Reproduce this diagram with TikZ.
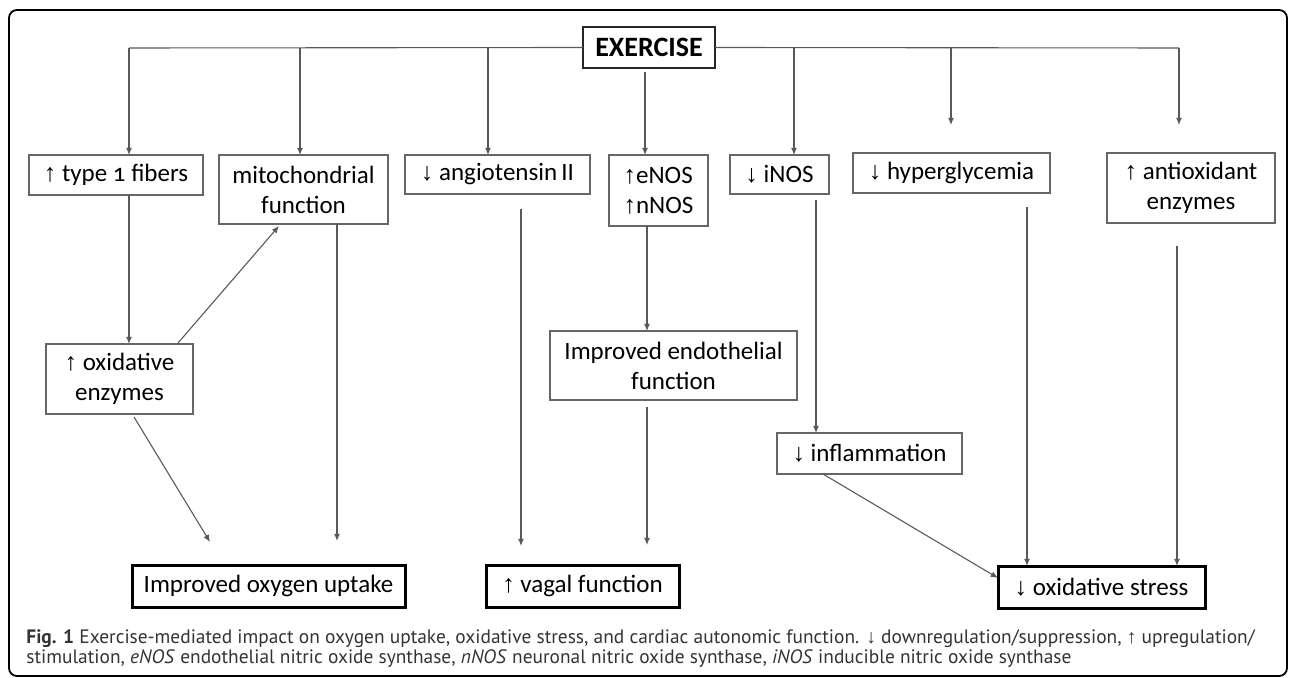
\documentclass[tikz,border=0pt]{standalone}
\usepackage{fontspec}
\setmainfont{Carlito}
\newfontfamily\boxfont[Numbers=OldStyle]{Carlito}
\newfontfamily\arrfont{Liberation Sans}
\newfontfamily\capfont{PT Sans}
\newcommand{\uarr}{{\arrfont ↑}}
\newcommand{\darr}{{\arrfont ↓}}
\usetikzlibrary{arrows.meta}
\tikzset{
  bx/.style 2 args={draw=black!60, line width=0.6pt, inner sep=0pt, outer sep=0pt,
    align=center, font=\boxfont\fontsize{12.5}{15}\selectfont,
    minimum width=#1*0.5pt, minimum height=#2*0.5pt},
  thick bx/.style 2 args={bx={#1}{#2}, draw=black, line width=1.5pt},
  arr/.style={draw=black!65, line width=0.55pt, -{Latex[length=3.6pt,width=3pt]}},
  ln/.style={draw=black!65, line width=0.55pt},
  captext/.style={anchor=base west, inner sep=0pt, text=black!80,
    font=\capfont\fontsize{9.7}{11}\selectfont}
}
\begin{document}
\begin{tikzpicture}[x=0.5pt, y=-0.5pt]
\useasboundingbox (0,0) rectangle (1290,678);
\draw[line width=0.9pt, rounded corners=4pt] (9,10) rectangle (1287,676);

% nodes
\node[bx={132}{41}, draw=black!85, line width=1pt, font=\boxfont\bfseries\fontsize{14}{16}\selectfont] (ex) at (649,47.5) {EXERCISE};
\node[bx={174}{40}] (t1)   at (116,175)    {\uarr\ type 1 fibers};
\node[bx={169}{69}] (mito) at (303.5,189.5){mitochondrial\\function};
\node[bx={185}{39}] (ang)  at (497.5,174.5){\darr\ angiotensin\,II};
\node[bx={99}{71}, align=left] (enos) at (658.5,190.5){\uarr eNOS\\\uarr nNOS};
\node[bx={99}{39}]  (inos) at (779.5,174.5){\darr\ iNOS};
\node[bx={197}{40}] (hyp)  at (951.5,173)  {\darr\ hyperglycemia};
\node[bx={168}{70}] (anti) at (1191,188)   {\uarr\ antioxidant\\enzymes};
\node[bx={147}{70}] (oxe)  at (119.5,379)  {\uarr\ oxidative\\enzymes};
\node[bx={247}{69}] (endo) at (673.5,365.5){Improved endothelial\\function};
\node[bx={185}{41}] (infl) at (869.5,453.5){\darr\ inflammation};
\node[thick bx={273}{42}] (oxy) at (268.5,586) {Improved oxygen uptake};
\node[thick bx={193}{42}] (vag) at (582.5,586) {\uarr\ vagal function};
\node[thick bx={207}{42}] (ost) at (1101.5,587){\darr\ oxidative stress};

% branch points
\coordinate (d1) at (129,48);
\coordinate (d2) at (300,48);
\coordinate (d3) at (488,48);
\coordinate (d4) at (645,68);
\coordinate (d5) at (794,48);
\coordinate (d6) at (951,48);
\coordinate (d7) at (1179,48);
\coordinate (e6) at (951,125);
\coordinate (e7) at (1179,125);

\draw[ln] (ex.west) -- (d1);
\draw[ln] (ex.east) -- (d7);
\draw[arr] (d1) -- (d1 |- t1.north);
\draw[arr] (d2) -- (d2 |- mito.north);
\draw[arr] (d3) -- (d3 |- ang.north);
\draw[arr] ([yshift=-2pt]d4) -- (d4 |- enos.north);
\draw[arr] (d5) -- (d5 |- inos.north);
\draw[arr] (d6) -- (e6);
\draw[arr] (d7) -- (e7);

% lower connectors
\coordinate (a1) at (129,195);
\draw[arr] (a1) -- (a1 |- oxe.north);
\coordinate (b1) at (178,343);
\coordinate (b2) at (279,226);
\draw[arr] (b1) -- (b2);
\coordinate (c1) at (337,224);
\coordinate (c2) at (337,541);
\draw[arr] (c1) -- (c2);
\coordinate (f1) at (134,417);
\coordinate (f2) at (210,542);
\draw[arr] (f1) -- (f2);
\coordinate (g1) at (521,209);
\coordinate (g2) at (521,546);
\draw[arr] (g1) -- (g2);
\coordinate (h1) at (647,226);
\draw[arr] (h1) -- (h1 |- endo.north);
\coordinate (h2) at (647,407);
\coordinate (h3) at (647,545);
\draw[arr] (h2) -- (h3);
\coordinate (i1) at (816,200);
\draw[arr] (i1) -- (i1 |- infl.north);
\coordinate (j1) at (1027,207);
\draw[arr] (j1) -- (j1 |- ost.north);
\coordinate (k1) at (1177,246);
\draw[arr] (k1) -- (k1 |- ost.north);
\coordinate (m1) at (823,474);
\coordinate (m2) at (998,578);
\draw[arr] (m1) -- (m2);

% caption
\node[captext] (cap1) at (26,643) {\textbf{Fig. 1} Exercise-mediated impact on oxygen uptake, oxidative stress, and cardiac autonomic function. \darr\ downregulation/suppression, \uarr\ upregulation/};
\node[captext] (cap2) at (26,663) {stimulation, \emph{eNOS} endothelial nitric oxide synthase, \emph{nNOS} neuronal nitric oxide synthase, \emph{iNOS} inducible nitric oxide synthase};
\end{tikzpicture}
\end{document}
